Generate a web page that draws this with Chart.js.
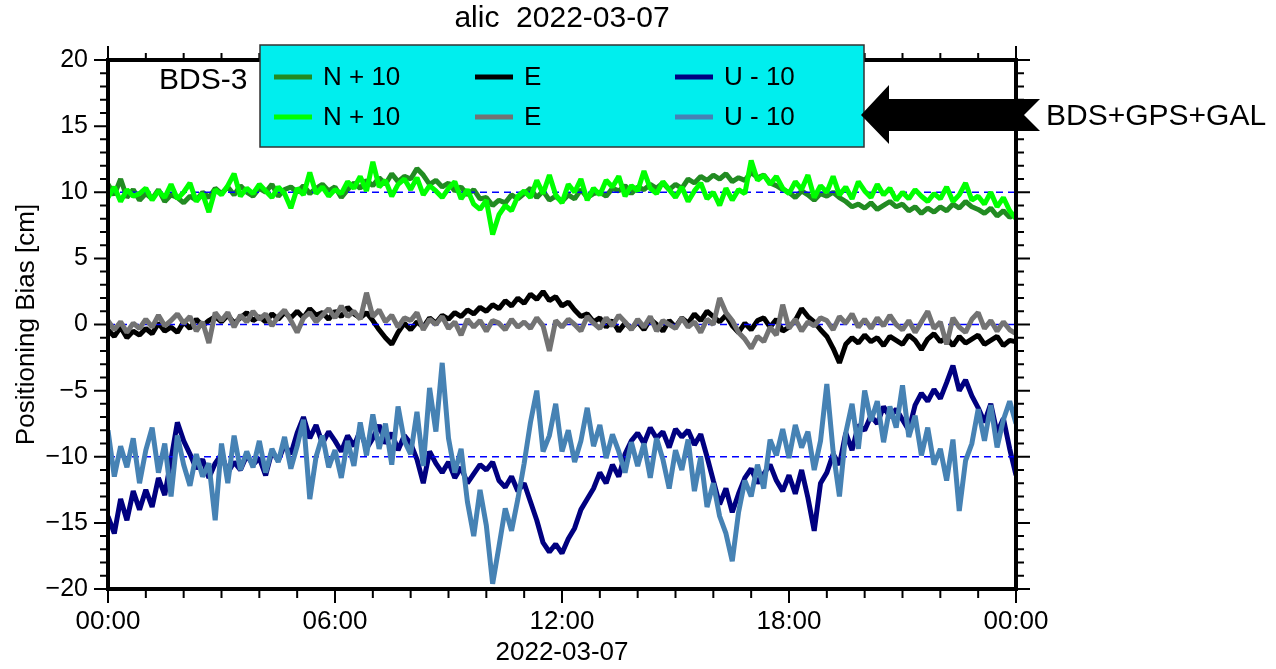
<!DOCTYPE html>
<html>
<head>
<meta charset="utf-8">
<title>alic 2022-03-07</title>
<script src="https://cdn.jsdelivr.net/npm/chart.js@4.4.1/dist/chart.umd.min.js"></script>
<style>
  html, body { margin: 0; padding: 0; background: #fff; }
  canvas { display: block; }
</style>
</head>
<body>
<canvas id="chart" width="1276" height="669"></canvas>
<script>
// 10-minute epochs over the day, minutes since 00:00
const epochs = Array.from({ length: 145 }, (_, i) => i * 10);

// North bias, plotted with +10 cm offset
const northBds3 = [
  10.6, 9.8, 11.0, 9.6, 10.2, 9.4,
  9.9, 9.5, 10.2, 9.3, 9.8, 9.6,
  9.2, 9.7, 9.4, 10.0, 9.6, 10.3,
  9.9, 10.4, 9.8, 10.5, 10.0, 9.7,
  10.3, 10.0, 10.6, 9.7, 10.2, 10.4,
  10.0, 10.5, 9.9, 10.3, 10.6, 10.1,
  10.4, 9.6, 10.2, 10.7, 10.3, 10.9,
  10.5, 11.1, 10.6, 11.4, 10.8, 11.2,
  11.0, 11.8, 11.3, 10.6, 10.9, 10.4,
  10.7, 10.1, 10.4, 9.8, 10.2, 9.5,
  9.6, 9.0, 9.4, 9.2, 9.8, 9.5,
  9.9, 10.3, 9.6, 10.1, 9.4, 9.7,
  9.3, 9.8, 9.5, 10.2, 9.6, 9.9,
  10.0, 9.7, 10.3, 10.1, 10.5, 9.9,
  10.4, 10.2, 10.6, 10.3, 10.7, 10.2,
  10.6, 10.3, 11.0, 10.7, 11.2, 10.9,
  11.3, 11.0, 11.4, 10.8, 11.1, 10.9,
  11.5, 11.1, 11.3, 10.7, 10.5, 10.2,
  10.0, 9.6, 10.1, 9.8, 9.4, 9.9,
  9.7, 10.0, 9.6, 9.3, 8.9, 9.1,
  8.8, 9.2, 8.7, 9.0, 9.3, 8.9,
  9.1, 8.6, 8.9, 8.4, 8.8, 8.5,
  8.9, 8.6, 9.1, 8.8, 9.3, 8.9,
  8.7, 8.4, 8.8, 8.2, 8.6, 8.1,
  8.4
];
const northMulti = [
  9.6, 10.4, 9.3, 10.2, 9.7, 9.9,
  10.3, 9.4, 10.1, 9.6, 10.6, 9.5,
  10.0, 10.7, 9.3, 9.9, 8.5, 10.2,
  9.8, 10.5, 11.4, 9.7, 10.3, 9.9,
  10.6, 10.1, 9.6, 10.4, 9.9, 8.8,
  10.3, 9.8, 11.5, 9.9, 10.4, 9.7,
  10.2, 9.9, 10.8, 10.3, 11.2, 10.1,
  12.3, 10.4, 10.9, 9.7, 10.6, 11.0,
  10.2, 11.1, 9.8, 10.5, 10.1, 9.6,
  10.3, 10.8, 9.5, 10.2, 9.1, 8.7,
  9.4, 6.8, 8.3, 9.0, 8.6, 9.7,
  10.1, 9.6, 10.9, 9.9, 11.3, 9.8,
  9.2, 10.6, 10.0, 11.0, 9.4, 10.3,
  9.8, 10.9, 10.4, 11.2, 9.7, 10.5,
  10.1, 11.6, 10.3, 9.9, 10.8, 10.2,
  9.6, 10.4, 9.3, 10.1, 10.7, 9.5,
  10.0, 9.0, 10.3, 9.4, 10.2, 9.9,
  12.4, 10.9, 11.3, 10.6, 11.2, 10.3,
  9.9, 10.8, 10.2, 11.3, 9.6, 10.5,
  10.0, 11.2, 9.8, 10.4, 9.5, 10.8,
  10.1, 9.6, 10.6, 9.8, 10.3, 9.4,
  10.0, 9.5, 10.2, 9.7, 9.3, 9.9,
  9.5, 10.4, 9.3, 9.8, 10.7, 9.4,
  9.7, 9.1, 10.0, 8.9, 9.6, 8.6,
  8.0
];

// East bias
const eastBds3 = [
  -0.4, -0.9, -0.2, -1.0, -0.5, -0.8,
  -0.3, -0.7, 0.1, -0.5, -0.2, -0.6,
  0.2, -0.3, 0.4, -0.1, 0.3, 0.6,
  0.2, 0.7, 0.1, 0.5, 0.9, 0.3,
  0.6, 0.2, 0.8, 0.4, 0.9, 0.5,
  1.0, 0.5, 1.2, 0.7, 0.9, 0.4,
  1.0, 0.6, 1.3, 0.8, 0.5, 0.9,
  0.3, -0.4, -1.0, -1.5, -0.6, 0.1,
  -0.4, 0.2, -0.2, 0.5, 0.1, 0.7,
  0.4, 0.9, 0.6, 1.1, 0.8, 1.3,
  1.0, 1.5, 1.2, 1.8, 1.4, 2.0,
  1.6, 2.3, 1.9, 2.5, 1.8, 2.1,
  1.4, 1.7, 1.1, 0.6, 0.8, 0.2,
  0.5, -0.2, 0.3, -0.5, 0.1, -0.3,
  0.2, -0.4, 0.4, 0.0, -0.5, 0.3,
  -0.2, 0.5, 0.1, 0.8, 0.3, 1.0,
  0.6, 0.2, 0.7, -0.1, -0.6, 0.1,
  -0.4, 0.3, 0.5, -0.2, 0.4, -0.5,
  -0.2, 0.3, 1.2, 0.6, 0.2, -0.4,
  -0.9, -1.8, -2.9, -1.5, -1.0, -1.4,
  -0.8, -1.3, -1.0, -1.6, -0.9, -1.2,
  -1.5, -0.8, -1.2, -1.9, -1.1, -0.7,
  -1.3, -1.0, -1.6, -0.9, -1.4, -1.1,
  -0.8, -1.5, -1.2, -0.9, -1.6, -1.2,
  -1.3
];
const eastMulti = [
  0.3, -0.4, 0.2, -0.6, 0.1, -0.3,
  0.4, -0.2, 0.7, -0.1, 0.3, 0.8,
  0.1, 0.6, -0.5, 0.2, -1.4, 0.9,
  0.3, 0.9, -0.2, 0.7, 0.2, 1.0,
  0.4, 0.8, -0.1, 0.6, 1.1, 0.3,
  -0.6, 0.5, 0.9, 0.2, 0.7, 1.2,
  0.5, 1.4, 0.6, 1.0, 0.4, 2.4,
  0.6, 1.1, 0.2, 0.7, -0.2, 0.5,
  0.3, 0.9, -0.4, 0.4, 0.0, 0.6,
  -0.3, 0.2, -0.8, 0.4, -0.2, 0.3,
  -0.5, 0.3, 0.1, -0.4, 0.4, -0.2,
  0.2, -0.3, 0.5, -0.1, -2.0, 0.3,
  -0.2, 0.4, 0.0, -0.5, 0.6, 0.1,
  -0.3, 0.5, -0.1, 0.7, 0.2, -0.4,
  0.4, -0.2, 0.6, -0.5, 0.3, 0.0,
  -0.3, 0.5, -0.2, 0.2, -0.6, 0.4,
  0.0, 2.0, 0.9, 0.3, -0.6, -1.1,
  -1.8, -0.9, -1.3, -0.2, -0.8, 1.5,
  -0.3, 0.4, -0.5, 0.2, -0.1, 0.5,
  0.3, -0.4, 0.6, 0.1, 0.8, -0.2,
  0.4, -0.3, 0.5, -0.1, 0.7, 0.0,
  -0.4, 0.3, -0.6, 0.2, 1.0, -0.3,
  0.2, -1.5, 0.5, -0.2, -0.6, 0.4,
  0.9, -0.3, 0.3, -0.5, 0.2, -0.4,
  -0.7
];

// Up bias, plotted with -10 cm offset
const upBds3 = [
  -14.5, -15.8, -13.2, -14.8, -12.6, -14.0,
  -12.5, -13.8, -11.6, -12.9, -10.2, -7.4,
  -8.8, -9.8, -10.9, -10.2, -11.6, -10.5,
  -9.8, -11.2, -10.4, -11.0, -9.9, -10.6,
  -10.1, -11.4, -9.6, -10.3, -9.1, -9.8,
  -8.2, -7.0, -8.6, -7.6, -9.0, -8.1,
  -8.8, -9.6, -8.4, -9.2, -8.0, -9.4,
  -8.6, -7.6, -9.0, -8.2, -9.5, -8.4,
  -9.0, -10.2, -12.0, -9.6, -10.5, -11.2,
  -10.4, -11.6, -10.8, -12.0, -11.3, -10.6,
  -11.0, -10.4, -11.8, -12.3, -11.5, -12.6,
  -12.0, -13.4, -14.8, -16.5, -17.2, -16.6,
  -17.3, -16.2, -15.4, -14.0, -13.2, -12.4,
  -11.2, -12.0, -10.6, -11.5, -9.8, -8.8,
  -8.2, -9.0, -7.8, -8.6, -8.1, -9.3,
  -7.9, -8.5, -8.0, -9.1, -8.3, -10.0,
  -11.8, -13.6, -12.4, -14.2, -12.8, -11.6,
  -10.9, -12.0, -11.3, -10.6, -11.8, -12.6,
  -11.4, -12.8, -11.0, -13.1, -15.6, -12.0,
  -11.2, -9.8, -10.6, -8.2, -9.5, -7.6,
  -8.0, -6.9, -7.5, -6.2, -7.0, -6.4,
  -7.2, -8.0, -6.1, -5.2, -5.8, -4.9,
  -5.6, -4.4, -3.1, -5.0, -4.2, -5.4,
  -6.3, -7.4, -6.0, -8.2, -7.1, -9.4,
  -11.4
];
const upMulti = [
  -8.0, -11.5, -9.2, -10.8, -8.6, -12.0,
  -9.5, -7.8, -11.2, -9.0, -13.0, -8.4,
  -10.6, -12.2, -9.8, -11.5, -10.5, -14.8,
  -9.0, -12.0, -8.4, -11.0, -9.6, -10.8,
  -8.8, -11.2, -9.4, -10.4, -8.5, -10.9,
  -9.2, -7.2, -13.2, -10.0, -8.4, -10.8,
  -9.5, -11.6, -8.8, -10.7, -7.4, -9.9,
  -6.8, -9.4, -7.5, -10.6, -6.2, -8.8,
  -9.8, -6.6, -10.7, -4.8, -8.1, -2.9,
  -8.6, -11.2, -9.4, -13.4, -16.0, -12.5,
  -15.2, -19.6, -16.8, -13.9, -15.6, -13.2,
  -10.5, -7.4, -5.0, -9.6, -8.4, -6.0,
  -9.6, -8.0, -10.4, -8.8, -6.3, -9.2,
  -7.6, -10.1, -8.3, -9.6, -11.2, -8.9,
  -10.7, -9.0, -11.6, -8.6, -10.2, -12.4,
  -9.5, -11.0, -8.7, -12.6, -10.0, -13.8,
  -12.0, -14.5, -15.8, -17.9, -14.2, -11.8,
  -13.0, -10.6, -12.4, -8.7, -9.9, -7.9,
  -10.1, -7.6, -9.3, -8.1, -11.0, -8.8,
  -4.5, -9.6, -13.0, -8.2, -6.0, -9.4,
  -5.0, -7.3, -5.8, -8.9, -6.2, -7.8,
  -4.6, -8.5, -6.9, -9.9, -7.8, -10.6,
  -9.4, -11.8, -8.7, -14.1, -10.3, -9.0,
  -6.4, -8.8, -6.1, -9.3, -7.2, -5.8,
  -7.5
];

// reference levels for the three shifted components
const refLevels = [10, 0, -10];
const hourLabels = ['00:00', '06:00', '12:00', '18:00', '00:00'];

const FONT = '"Liberation Sans", Arial, Helvetica, sans-serif';
Chart.defaults.font.family = FONT;
Chart.defaults.color = '#000';

function series(label, values, color, order) {
  return {
    label: label,
    order: order,
    data: values.map((v, i) => ({ x: epochs[i], y: v })),
    borderColor: color,
    backgroundColor: color,
    borderWidth: 5,
    borderJoinStyle: 'bevel',
    pointRadius: 0,
    tension: 0,
    fill: false
  };
}

function refLine(level) {
  return {
    label: '',
    order: 1,
    data: [{ x: 0, y: level }, { x: 1440, y: level }],
    borderColor: '#0000ff',
    borderWidth: 1.3,
    borderDash: [7, 5],
    pointRadius: 0,
    fill: false
  };
}

const datasets = [
  series('N + 10', northBds3, '#228b22', 2),
  series('E', eastBds3, '#000000', 2),
  series('U - 10', upBds3, '#000080', 2),
  ...refLevels.map(refLine),
  series('N + 10', northMulti, '#00ff00', 0),
  series('E', eastMulti, '#737373', 0),
  series('U - 10', upMulti, '#4682b4', 0)
];

// frame, tick marks, legend box and annotations
const decor = {
  id: 'decor',
  afterDatasetsDraw(chart) {
    const { ctx, chartArea: a, scales: { x, y } } = chart;
    ctx.save();

    ctx.strokeStyle = '#000';
    ctx.lineWidth = 2;
    ctx.beginPath();
    x.ticks.forEach(t => {
      const px = x.getPixelForValue(t.value);
      const major = t.value % 360 === 0;
      ctx.moveTo(px, a.bottom);
      ctx.lineTo(px, a.bottom + (major ? 14 : 9));
      ctx.moveTo(px, a.top);
      ctx.lineTo(px, a.top - (major ? 14 : 7));
    });
    y.ticks.forEach(t => {
      const py = y.getPixelForValue(t.value);
      const major = t.value % 5 === 0;
      ctx.moveTo(a.left, py);
      ctx.lineTo(a.left - (major ? 14 : 8), py);
      ctx.moveTo(a.right, py);
      ctx.lineTo(a.right + (major ? 14 : 8), py);
    });
    ctx.stroke();

    ctx.lineWidth = 4;
    ctx.strokeRect(a.left, a.top, a.right - a.left, a.bottom - a.top);

    // title
    ctx.fillStyle = '#000';
    ctx.font = '30px ' + FONT;
    ctx.textAlign = 'center';
    ctx.textBaseline = 'middle';
    ctx.fillText('alic  2022-03-07', (a.left + a.right) / 2, 19);

    // legend box
    ctx.fillStyle = '#00eeee';
    ctx.fillRect(260, 45, 604, 102);
    ctx.strokeStyle = '#333';
    ctx.lineWidth = 1.5;
    ctx.strokeRect(260, 45, 604, 102);

    const cols = [274, 475, 675];
    const rows = [77, 117];
    const entries = chart.data.datasets.filter(d => d.label);
    ctx.font = '26px ' + FONT;
    ctx.textAlign = 'left';
    entries.forEach((d, i) => {
      const cx = cols[i % 3];
      const cy = rows[Math.floor(i / 3)];
      ctx.strokeStyle = d.borderColor;
      ctx.lineWidth = 5;
      ctx.beginPath();
      ctx.moveTo(cx, cy);
      ctx.lineTo(cx + 38, cy);
      ctx.stroke();
      ctx.fillStyle = '#000';
      ctx.fillText(d.label, cx + 49, cy + 1);
    });

    // solution labels and arrow
    ctx.font = '30px ' + FONT;
    ctx.fillText('BDS-3', 159, 81);
    ctx.fillText('BDS+GPS+GAL', 1046, 117);

    ctx.beginPath();
    ctx.moveTo(861, 115);
    ctx.lineTo(889, 85);
    ctx.lineTo(889, 99);
    ctx.lineTo(1040, 99);
    ctx.lineTo(1024, 115);
    ctx.lineTo(1040, 131);
    ctx.lineTo(889, 131);
    ctx.lineTo(889, 144);
    ctx.closePath();
    ctx.fillStyle = '#000';
    ctx.fill();

    ctx.restore();
  }
};

new Chart(document.getElementById('chart'), {
  type: 'line',
  data: { datasets: datasets },
  options: {
    responsive: false,
    animation: false,
    events: [],
    layout: { padding: { top: 60, right: 260, left: 0, bottom: 0 } },
    plugins: {
      legend: { display: false },
      tooltip: { enabled: false },
      title: { display: false }
    },
    scales: {
      x: {
        type: 'linear',
        min: 0,
        max: 1440,
        afterBuildTicks(scale) {
          scale.ticks = [];
          for (let m = 0; m <= 1440; m += 60) scale.ticks.push({ value: m });
        },
        afterFit(scale) { scale.height = 80; },
        grid: { display: false, drawTicks: false },
        border: { display: false },
        ticks: {
          autoSkip: false,
          maxRotation: 0,
          padding: 17,
          font: { size: 26 },
          callback: v => (v % 360 === 0 ? hourLabels[v / 360] : '')
        },
        title: {
          display: true,
          text: '2022-03-07',
          font: { size: 26 },
          padding: { top: 0, bottom: 1 }
        }
      },
      y: {
        min: -20,
        max: 20,
        afterBuildTicks(scale) {
          scale.ticks = [];
          for (let v = -20; v <= 20; v++) scale.ticks.push({ value: v });
        },
        afterFit(scale) { scale.width = 108; },
        grid: { display: false, drawTicks: false },
        border: { display: false },
        ticks: {
          autoSkip: false,
          padding: 20,
          font: { size: 25 },
          callback: v => (v % 5 === 0 ? (v < 0 ? '\u2212' + Math.abs(v) : String(v)) : '')
        },
        title: {
          display: true,
          text: 'Positioning Bias [cm]',
          font: { size: 26 },
          padding: { top: 11, bottom: 0 }
        }
      }
    }
  },
  plugins: [decor]
});
</script>
</body>
</html>
